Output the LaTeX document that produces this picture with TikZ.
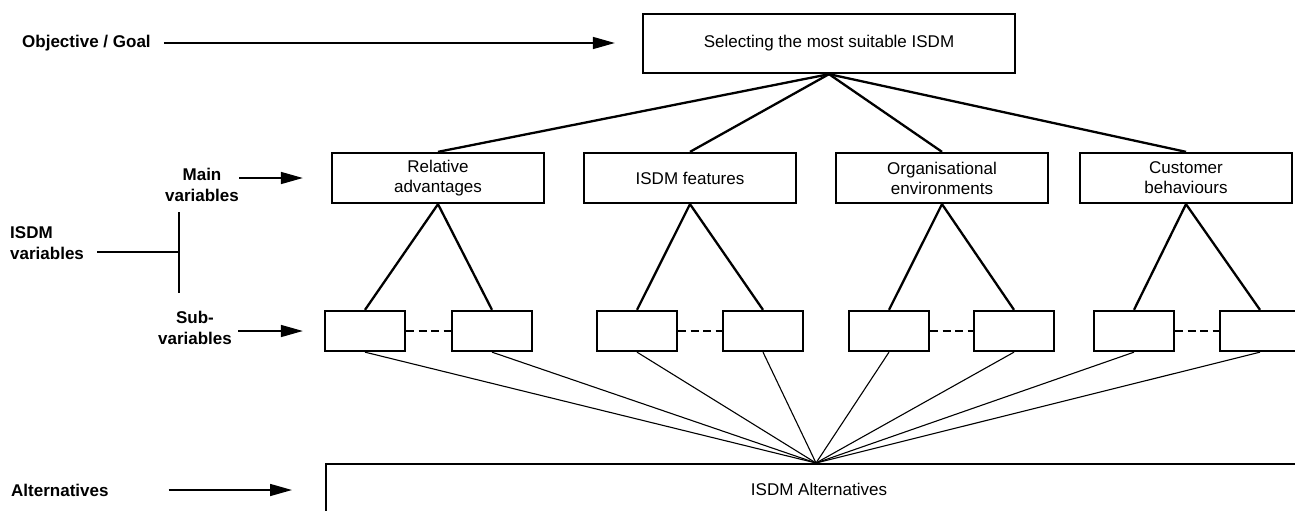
\documentclass[tikz,border=0pt]{standalone}
\usepackage{fontspec}
\setmainfont{Liberation Sans}
\usetikzlibrary{arrows.meta}
\begin{document}
\begin{tikzpicture}[x=1pt,y=-1pt,
  box/.style={draw, line width=2.3pt, inner sep=0pt, align=center, font=\fontsize{17}{20}\selectfont},
  mainbox/.style={box, minimum width=212pt, minimum height=50pt},
  subbox/.style={box, minimum width=80pt, minimum height=40pt},
  lab/.style={inner sep=0pt, font=\bfseries\fontsize{17}{21}\selectfont},
  arr/.style={line width=1.5pt, -{Triangle[length=22pt,width=12pt]}},
  tree/.style={line width=2.3pt},
  fan/.style={line width=1.1pt},
  dashl/.style={line width=2.5pt, dash pattern=on 8pt off 4.5pt},
  barl/.style={line width=2pt}]
\useasboundingbox (0,0) rectangle (1295,511);
\clip (0,0) rectangle (1295,511);

% goal
\node[box, minimum width=372pt, minimum height=59pt] (goal) at (829,43.5) {Selecting the most suitable ISDM};

% main variables
\node[mainbox] (m1) at (438,178) {Relative\\advantages};
\node[mainbox] (m2) at (690,178) {ISDM features};
\node[mainbox] (m3) at (942,178) {Organisational\\environments};
\node[mainbox] (m4) at (1186,178) {Customer\\behaviours};

% sub variables
\node[subbox] (s1) at (365,331) {};
\node[subbox] (s2) at (492,331) {};
\node[subbox] (s3) at (637,331) {};
\node[subbox] (s4) at (763,331) {};
\node[subbox] (s5) at (889,331) {};
\node[subbox] (s6) at (1014,331) {};
\node[subbox] (s7) at (1134,331) {};
\node[subbox] (s8) at (1260,331) {};

% alternatives
\node[draw, line width=2.3pt, inner sep=0pt, minimum width=1000pt, minimum height=80pt, anchor=north west] (alt) at (325,463) {};
\node[inner sep=0pt, font=\fontsize{17}{20}\selectfont] (alttxt) at (819,489) {ISDM Alternatives};
\coordinate (apex) at (816,463);

% tree connectors
\foreach \m in {m1,m2,m3,m4} \draw[tree] (goal.south) -- (\m.north);
\draw[tree] (m1.south) -- (s1.north);
\draw[tree] (m1.south) -- (s2.north);
\draw[tree] (m2.south) -- (s3.north);
\draw[tree] (m2.south) -- (s4.north);
\draw[tree] (m3.south) -- (s5.north);
\draw[tree] (m3.south) -- (s6.north);
\draw[tree] (m4.south) -- (s7.north);
\draw[tree] (m4.south) -- (s8.north);

\draw[dashl] (s1.east) -- (s2.west);
\draw[dashl] (s3.east) -- (s4.west);
\draw[dashl] (s5.east) -- (s6.west);
\draw[dashl] (s7.east) -- (s8.west);

\foreach \s in {s1,s2,s3,s4,s5,s6,s7,s8} \draw[fan] (\s.south) -- (apex);

% left labels
\node[lab, anchor=west] (obj) at (22,43) {Objective / Goal};
\draw[arr, shorten <=13pt, shorten >=27pt] (obj.east) -- (obj.east -| goal.west);

\node[lab, align=center] (mainlab) at (202,185) {Main\\variables};
\draw[arr, shorten >=28pt] (mainlab.east |- m1.west) -- (m1.west);

\node[lab, align=center] (sublab) at (195,328) {Sub-\\variables};
\draw[arr, shorten <=6pt, shorten >=21pt] (sublab.east |- s1.west) -- (s1.west);

\node[lab, anchor=west, align=left] (isdm) at (10,243.5) {ISDM\\variables};
\coordinate (bar) at (179,252);
\coordinate (bartop) at (179,212);
\coordinate (barbot) at (179,293);
\draw[barl, shorten <=13pt] (isdm.east |- bar) -- (bar);
\draw[barl] (bartop) -- (barbot);

\node[lab, anchor=west] (altlab) at (11,490) {Alternatives};
\draw[arr, shorten <=60pt, shorten >=33pt] (altlab.east) -- (altlab.east -| alt.west);
\end{tikzpicture}
\end{document}
